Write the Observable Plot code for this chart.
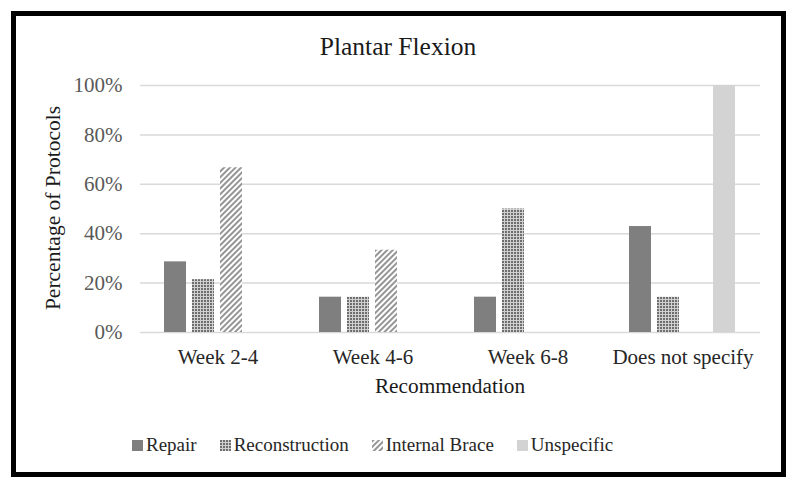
<!DOCTYPE html>
<html>
<head>
<meta charset="utf-8">
<script src="https://cdn.jsdelivr.net/npm/d3@7"></script>
<script src="https://cdn.jsdelivr.net/npm/@observablehq/plot@0.6"></script>
<style>
  html, body { margin: 0; padding: 0; background: #fff; }
  #chart { position: relative; width: 798px; height: 490px; font-family: "Liberation Serif", "DejaVu Serif", serif; overflow: hidden; }
  #frame { position: absolute; left: 11px; top: 11px; width: 775px; height: 466px; border: 5px solid #000; box-sizing: border-box; pointer-events: none; }
  #plot { position: absolute; left: 0; top: 0; }
  .title { position: absolute; left: 398px; top: 47px; transform: translate(-50%, -50%); font-size: 25.5px; color: #1a1a1a; white-space: nowrap; }
  .ytitle { position: absolute; left: 53px; top: 208px; transform: translate(-50%, -50%) rotate(-90deg); font-size: 21.5px; color: #1a1a1a; white-space: nowrap; }
  .xtitle { position: absolute; left: 450px; top: 386px; transform: translate(-50%, -50%); font-size: 21.3px; color: #1a1a1a; white-space: nowrap; }
  #legend { position: absolute; left: 132px; top: 445px; transform: translateY(-50%); display: flex; gap: 23px; font-size: 19px; color: #262626; white-space: nowrap; }
  .item { display: flex; align-items: center; gap: 3px; }
  .item svg { display: block; }
</style>
</head>
<body>
<svg width="0" height="0" style="position:absolute">
  <defs>
    <pattern id="recon" patternUnits="userSpaceOnUse" width="3" height="3">
      <rect width="3" height="3" fill="#d0d0d0"></rect>
      <rect width="2" height="2" fill="#6e6e6e"></rect>
    </pattern>
    <pattern id="brace" patternUnits="userSpaceOnUse" width="4" height="4" patternTransform="rotate(45)">
      <rect width="4" height="4" fill="#ffffff"></rect>
      <line x1="1" y1="0" x2="1" y2="4" stroke="#7a7a7a" stroke-width="1.6"></line>
    </pattern>
  </defs>
</svg>
<div id="chart">
  <div id="plot"></div>
  <div class="title">Plantar Flexion</div>
  <div class="ytitle">Percentage of Protocols</div>
  <div class="xtitle">Recommendation</div>
  <div id="legend"></div>
  <div id="frame"></div>
</div>
<script>
// Data
const categories = ["Week 2-4", "Week 4-6", "Week 6-8", "Does not specify"];
const seriesNames = ["Repair", "Reconstruction", "Internal Brace", "Unspecific"];
const repair = [28.6, 14.3, 14.3, 42.9];
const reconstruction = [21.4, 14.3, 50, 14.3];
const internalBrace = [66.7, 33.3, 0, 0];
const unspecific = [0, 0, 0, 100];
const yTicks = [0, 20, 40, 60, 80, 100];

const seriesFills = ["#7f7f7f", "url(#recon)", "url(#brace)", "#d3d3d3"];
const seriesValues = [repair, reconstruction, internalBrace, unspecific];

const rows = [];
categories.forEach((c, i) => {
  seriesNames.forEach((s, j) => {
    rows.push({category: c, series: s, value: seriesValues[j][i]});
  });
});

const chart = Plot.plot({
  width: 798,
  height: 490,
  marginLeft: 140,
  marginRight: 38,
  marginTop: 85,
  marginBottom: 158,
  style: {fontFamily: "'Liberation Serif', 'DejaVu Serif', serif", fontSize: "21px", color: "#595959", background: "transparent"},
  fx: {domain: categories, padding: 0, axis: "bottom", label: null, tickSize: 0, tickPadding: 17},
  x: {domain: seriesNames, axis: null, paddingInner: 0.21, paddingOuter: 0.84},
  y: {domain: [0, 100], ticks: yTicks, tickFormat: d => d + "%", tickSize: 0, tickPadding: 18, label: null},
  color: {domain: seriesNames, range: seriesFills},
  facet: {data: rows, x: "category"},
  marks: [
    Plot.ruleY(yTicks, {stroke: "#d9d9d9", strokeWidth: 1.5}),
    Plot.barY(rows, {x: "series", y1: 0, y2: "value", fill: "series", filter: d => d.value > 0})
  ]
});
document.getElementById("plot").appendChild(chart);

// Uniform serif axis text; darker category labels
d3.select(chart).selectAll("text")
  .style("font-family", "'Liberation Serif', 'DejaVu Serif', serif")
  .style("font-size", "21px");
d3.select(chart).selectAll('[aria-label^="fx-axis"] text').attr("fill", "#262626");

// Legend
const legend = d3.select("#legend");
seriesNames.forEach((s, j) => {
  const item = legend.append("div").attr("class", "item");
  const sw = item.append("svg").attr("width", 11).attr("height", 11);
  sw.append("rect").attr("width", 11).attr("height", 11).attr("fill", seriesFills[j]);
  item.append("span").text(s);
});
</script>
</body>
</html>
